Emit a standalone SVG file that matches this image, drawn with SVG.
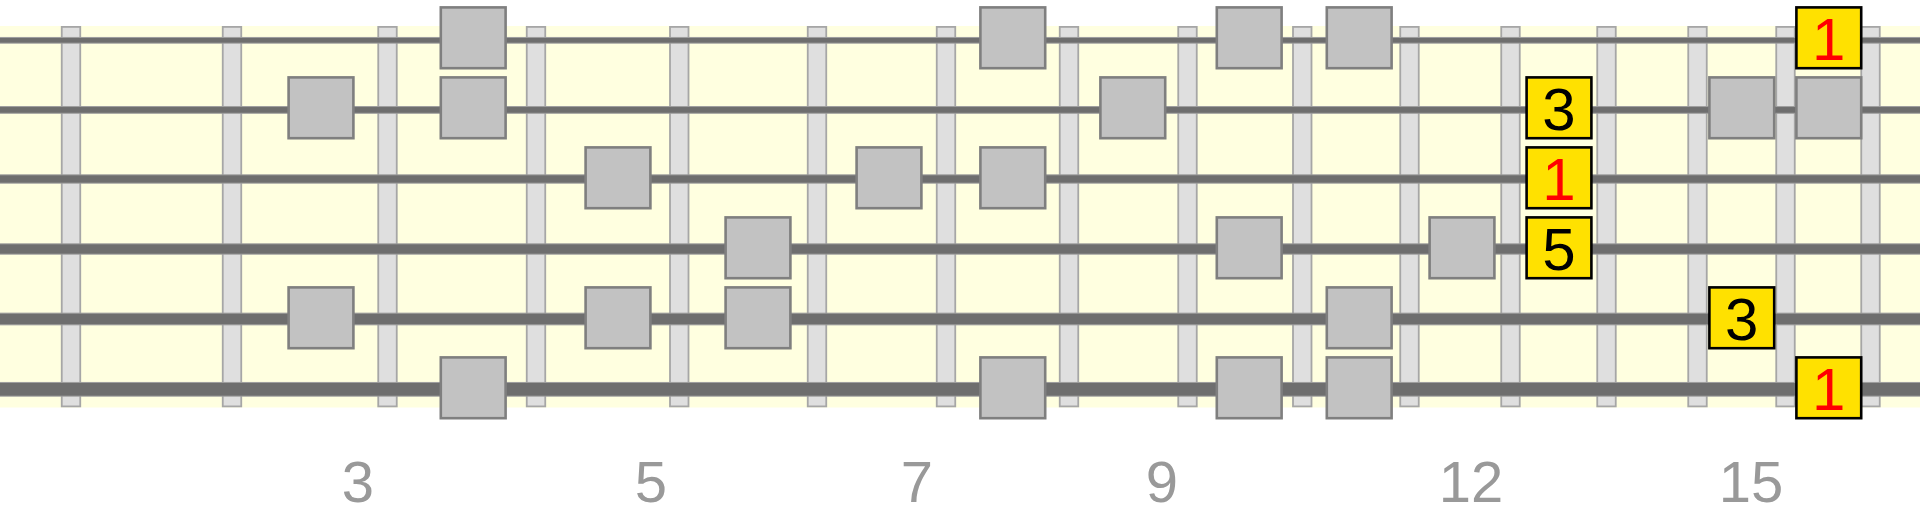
<svg xmlns="http://www.w3.org/2000/svg" width="1920" height="511" viewBox="0 0 1920 511">
<style>
.bg{fill:#FFFFE0}
.fret{fill:#DFDFDF;stroke:#A6A6A6;stroke-width:1.8}
.str{fill:#6E6E6E;stroke:#9E9E9E;stroke-width:1}
.n{fill:#C2C2C2;stroke:#7F7F7F;stroke-width:2.6}
.r{fill:#FFE100;stroke:#000;stroke-width:2.6}
</style>
<defs>
<rect id="sq" x="-32.4" y="-30.4" width="64.8" height="60.8"/>
</defs>
<rect class="bg" x="0" y="26" width="1920" height="381.5"/>
<g id="frets">
<rect class="fret" x="61.75" y="26.9" width="18.5" height="379.5"/>
<rect class="fret" x="222.75" y="26.9" width="18.5" height="379.5"/>
<rect class="fret" x="378.25" y="26.9" width="18.5" height="379.5"/>
<rect class="fret" x="526.75" y="26.9" width="18.5" height="379.5"/>
<rect class="fret" x="670" y="26.9" width="18.5" height="379.5"/>
<rect class="fret" x="807.75" y="26.9" width="18.5" height="379.5"/>
<rect class="fret" x="936.75" y="26.9" width="18.5" height="379.5"/>
<rect class="fret" x="1059.75" y="26.9" width="18.5" height="379.5"/>
<rect class="fret" x="1178.25" y="26.9" width="18.5" height="379.5"/>
<rect class="fret" x="1293" y="26.9" width="18.5" height="379.5"/>
<rect class="fret" x="1400.25" y="26.9" width="18.5" height="379.5"/>
<rect class="fret" x="1501.25" y="26.9" width="18.5" height="379.5"/>
<rect class="fret" x="1597.25" y="26.9" width="18.5" height="379.5"/>
<rect class="fret" x="1688.25" y="26.9" width="18.5" height="379.5"/>
<rect class="fret" x="1776.25" y="26.9" width="18.5" height="379.5"/>
<rect class="fret" x="1861.25" y="26.9" width="18.5" height="379.5"/>
</g>
<g id="strings">
<rect class="str" x="-2" y="37.45" width="1924" height="5.7"/>
<rect class="str" x="-2" y="106.55" width="1924" height="6.7"/>
<rect class="str" x="-2" y="174.85" width="1924" height="8.3"/>
<rect class="str" x="-2" y="243.85" width="1924" height="10.3"/>
<rect class="str" x="-2" y="313.15" width="1924" height="11.7"/>
<rect class="str" x="-2" y="382.45" width="1924" height="13.7"/>
</g>
<g id="notes">
<g id="s1">
<use href="#sq" class="n" x="473.2" y="37.8"/>
<use href="#sq" class="n" x="1012.8" y="37.8"/>
<use href="#sq" class="n" x="1249.2" y="37.8"/>
<use href="#sq" class="n" x="1359.2" y="37.8"/>
<g id="s1-root"><use href="#sq" class="r" x="1828.8" y="37.8"/><text x="1812.1" y="59.8" fill="#FF0000" font-family="Liberation Sans" font-size="60">1</text></g>
</g>
<g id="s2">
<use href="#sq" class="n" x="321" y="107.8"/>
<use href="#sq" class="n" x="473.2" y="107.8"/>
<use href="#sq" class="n" x="1132.8" y="107.8"/>
<use href="#sq" class="n" x="1741.8" y="107.8"/>
<use href="#sq" class="n" x="1828.8" y="107.8"/>
<g id="s2-third"><use href="#sq" class="r" x="1559" y="107.8"/><text x="1542.3" y="129.8" fill="#000000" font-family="Liberation Sans" font-size="60">3</text></g>
</g>
<g id="s3">
<use href="#sq" class="n" x="618" y="177.8"/>
<use href="#sq" class="n" x="889" y="177.8"/>
<use href="#sq" class="n" x="1012.8" y="177.8"/>
<g id="s3-root"><use href="#sq" class="r" x="1559" y="177.8"/><text x="1542.3" y="199.8" fill="#FF0000" font-family="Liberation Sans" font-size="60">1</text></g>
</g>
<g id="s4">
<use href="#sq" class="n" x="758" y="247.8"/>
<use href="#sq" class="n" x="1249.2" y="247.8"/>
<use href="#sq" class="n" x="1462" y="247.8"/>
<g id="s4-fifth"><use href="#sq" class="r" x="1559" y="247.8"/><text x="1542.3" y="269.8" fill="#000000" font-family="Liberation Sans" font-size="60">5</text></g>
</g>
<g id="s5">
<use href="#sq" class="n" x="321" y="317.8"/>
<use href="#sq" class="n" x="618" y="317.8"/>
<use href="#sq" class="n" x="758" y="317.8"/>
<use href="#sq" class="n" x="1359.2" y="317.8"/>
<g id="s5-third"><use href="#sq" class="r" x="1741.8" y="317.8"/><text x="1725.1" y="339.8" fill="#000000" font-family="Liberation Sans" font-size="60">3</text></g>
</g>
<g id="s6">
<use href="#sq" class="n" x="473.2" y="387.8"/>
<use href="#sq" class="n" x="1012.8" y="387.8"/>
<use href="#sq" class="n" x="1249.2" y="387.8"/>
<use href="#sq" class="n" x="1359.2" y="387.8"/>
<g id="s6-root"><use href="#sq" class="r" x="1828.8" y="387.8"/><text x="1812.1" y="409.8" fill="#FF0000" font-family="Liberation Sans" font-size="60">1</text></g>
</g>
</g>
<text x="358" y="501.5" fill="#999999" font-family="Liberation Sans" font-size="58" text-anchor="middle">3</text>
<text x="651" y="501.5" fill="#999999" font-family="Liberation Sans" font-size="58" text-anchor="middle">5</text>
<text x="917" y="501.5" fill="#999999" font-family="Liberation Sans" font-size="58" text-anchor="middle">7</text>
<text x="1162" y="501.5" fill="#999999" font-family="Liberation Sans" font-size="58" text-anchor="middle">9</text>
<text x="1471" y="501.5" fill="#999999" font-family="Liberation Sans" font-size="58" text-anchor="middle">12</text>
<text x="1751" y="501.5" fill="#999999" font-family="Liberation Sans" font-size="58" text-anchor="middle">15</text>
</svg>
